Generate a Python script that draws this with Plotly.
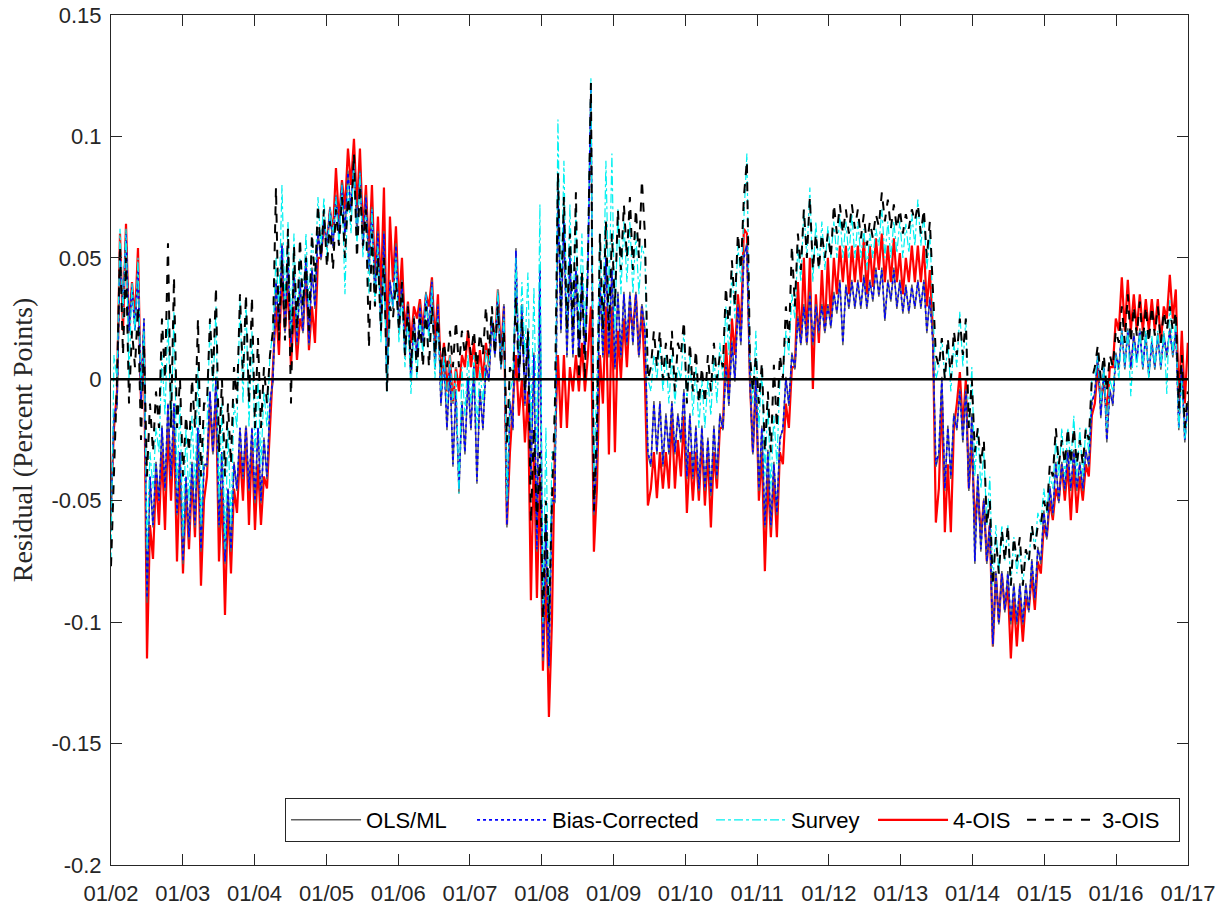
import pandas as pd
import plotly.graph_objects as go

# Two readings per month (Jan 2002 - Dec 2016), values in percent points
years = list(range(2002, 2017))
tick_years = list(range(2002, 2018))
tick_labels = ["01/%02d" % (y % 100) for y in tick_years]
y_ticks = [0.15, 0.1, 0.05, 0, -0.05, -0.1, -0.15, -0.2]
y_tick_labels = ["0.15", "0.1", "0.05", "0", "-0.05", "-0.1", "-0.15", "-0.2"]

ols_ml = [
    -0.057,-0.014, -0.012,0.050, 0.030,0.061, 0.019,0.038, 0.020,0.046, -0.011,0.025, -0.092,-0.040, -0.061,-0.034, -0.050,-0.019, -0.046,-0.010, -0.041,-0.010, -0.056,-0.030,
    -0.076,-0.040, -0.066,-0.034, -0.061,-0.020, -0.071,-0.035, -0.036,-0.005, -0.031,0.001, -0.061,-0.030, -0.076,-0.045, -0.071,-0.034, -0.046,-0.020, -0.041,-0.019, -0.046,-0.020,
    -0.051,-0.020, -0.051,-0.024, -0.041,-0.010, -0.001,0.041, 0.019,0.056, 0.019,0.051, 0.014,0.046, 0.014,0.041, 0.019,0.051, 0.014,0.046, 0.029,0.061, 0.049,0.066,
    0.054,0.071, 0.054,0.076, 0.059,0.081, 0.059,0.086, 0.069,0.091, 0.059,0.086, 0.054,0.076, 0.044,0.071, 0.034,0.061, 0.019,0.061, -0.004,0.041, 0.029,0.056,
    0.019,0.041, 0.009,0.031, -0.001,0.026, 0.009,0.031, 0.014,0.036, 0.019,0.041, 0.004,0.031, -0.011,0.011, -0.021,0.006, -0.036,-0.004, -0.047,-0.009, -0.031,0.001,
    -0.021,0.006, -0.043,-0.004, -0.021,0.006, -0.001,0.026, 0.009,0.036, 0.004,0.031, -0.061,-0.009, -0.021,0.054, -0.001,0.031, -0.011,0.021, -0.041,0.011, -0.071,0.046,
    -0.116,-0.059, -0.119,-0.049, -0.051,0.079, 0.019,0.066, 0.009,0.051, 0.009,0.046, 0.009,0.041, 0.009,0.046, 0.122,-0.056, -0.031,0.041, 0.009,0.051, 0.009,0.046,
    0.004,0.036, 0.009,0.036, 0.014,0.036, 0.014,0.036, 0.009,0.031, 0.021,-0.031, -0.036,-0.009, -0.031,-0.009, -0.036,-0.014, -0.031,-0.009, -0.031,-0.014, -0.026,-0.004,
    -0.041,-0.014, -0.041,-0.019, -0.046,-0.019, -0.046,-0.024, -0.048,-0.019, -0.041,-0.014, -0.021,0.006, -0.011,0.016, -0.001,0.031, 0.014,0.051, 0.056,-0.001, -0.031,0.001,
    -0.046,-0.019, -0.061,-0.029, -0.061,-0.034, -0.056,-0.024, -0.021,0.001, -0.011,0.011, 0.004,0.026, 0.014,0.031, 0.014,0.036, 0.014,0.031, 0.019,0.031, 0.019,0.031,
    0.021,0.036, 0.027,0.041, 0.014,0.039, 0.029,0.041, 0.029,0.041, 0.029,0.043, 0.029,0.041, 0.032,0.046, 0.034,0.046, 0.024,0.041, 0.032,0.046, 0.029,0.041,
    0.027,0.039, 0.027,0.039, 0.029,0.041, 0.029,0.041, 0.019,0.034, 0.016,-0.036, -0.031,0.001, -0.046,-0.019, -0.041,-0.014, -0.021,-0.004, -0.026,-0.004, -0.046,-0.014,
    -0.076,-0.039, -0.071,-0.049, -0.076,-0.059, -0.110,-0.079, -0.101,-0.079, -0.096,-0.079, -0.101,-0.084, -0.101,-0.084, -0.101,-0.084, -0.096,-0.074, -0.091,-0.069, -0.076,-0.054,
    -0.066,-0.044, -0.056,-0.034, -0.051,-0.034, -0.046,-0.029, -0.046,-0.029, -0.046,-0.034, -0.046,-0.029, -0.036,-0.009, -0.006,0.011, -0.016,0.006, -0.026,-0.004, -0.011,0.011,
    0.004,0.021, 0.004,0.021, 0.004,0.019, 0.007,0.021, 0.004,0.019, 0.001,0.016, 0.004,0.019, 0.004,0.019, 0.009,0.021, 0.009,0.021, -0.021,0.006, -0.026,-0.009,
]

bias_corrected = [
    -0.055,-0.015, -0.010,0.050, 0.030,0.060, 0.020,0.038, 0.020,0.045, -0.010,0.025, -0.090,-0.040, -0.060,-0.035, -0.050,-0.020, -0.045,-0.010, -0.040,-0.010, -0.055,-0.030,
    -0.075,-0.040, -0.065,-0.035, -0.060,-0.020, -0.070,-0.035, -0.035,-0.005, -0.030,0.000, -0.060,-0.030, -0.075,-0.045, -0.070,-0.035, -0.045,-0.020, -0.040,-0.020, -0.045,-0.020,
    -0.050,-0.020, -0.050,-0.025, -0.040,-0.010, 0.000,0.040, 0.020,0.055, 0.020,0.050, 0.015,0.045, 0.015,0.040, 0.020,0.050, 0.015,0.045, 0.030,0.060, 0.050,0.065,
    0.055,0.070, 0.055,0.075, 0.060,0.080, 0.060,0.085, 0.070,0.090, 0.060,0.085, 0.055,0.075, 0.045,0.070, 0.035,0.060, 0.020,0.060, -0.003,0.040, 0.030,0.055,
    0.020,0.040, 0.010,0.030, 0.000,0.025, 0.010,0.030, 0.015,0.035, 0.020,0.040, 0.005,0.030, -0.010,0.010, -0.020,0.005, -0.035,-0.005, -0.045,-0.010, -0.030,0.000,
    -0.020,0.005, -0.042,-0.005, -0.020,0.005, 0.000,0.025, 0.010,0.035, 0.005,0.030, -0.060,-0.010, -0.020,0.053, 0.000,0.030, -0.010,0.020, -0.040,0.010, -0.070,0.045,
    -0.115,-0.060, -0.118,-0.050, -0.050,0.078, 0.020,0.065, 0.010,0.050, 0.010,0.045, 0.010,0.040, 0.010,0.045, 0.120,-0.055, -0.030,0.040, 0.010,0.050, 0.010,0.045,
    0.005,0.035, 0.010,0.035, 0.015,0.035, 0.015,0.035, 0.010,0.030, 0.020,-0.030, -0.035,-0.010, -0.030,-0.010, -0.035,-0.015, -0.030,-0.010, -0.030,-0.015, -0.025,-0.005,
    -0.040,-0.015, -0.040,-0.020, -0.045,-0.020, -0.045,-0.025, -0.047,-0.020, -0.040,-0.015, -0.020,0.005, -0.010,0.015, 0.000,0.030, 0.015,0.050, 0.055,0.000, -0.030,0.000,
    -0.045,-0.020, -0.060,-0.030, -0.060,-0.035, -0.055,-0.025, -0.020,0.000, -0.010,0.010, 0.005,0.025, 0.015,0.030, 0.015,0.035, 0.015,0.030, 0.020,0.030, 0.020,0.030,
    0.022,0.035, 0.028,0.040, 0.015,0.038, 0.030,0.040, 0.030,0.040, 0.030,0.042, 0.030,0.040, 0.033,0.045, 0.035,0.045, 0.025,0.040, 0.033,0.045, 0.030,0.040,
    0.028,0.038, 0.028,0.038, 0.030,0.040, 0.030,0.040, 0.020,0.033, 0.015,-0.035, -0.030,0.000, -0.045,-0.020, -0.040,-0.015, -0.020,-0.005, -0.025,-0.005, -0.045,-0.015,
    -0.075,-0.040, -0.070,-0.050, -0.075,-0.060, -0.109,-0.080, -0.100,-0.080, -0.095,-0.080, -0.100,-0.085, -0.100,-0.085, -0.100,-0.085, -0.095,-0.075, -0.090,-0.070, -0.075,-0.055,
    -0.065,-0.045, -0.055,-0.035, -0.050,-0.035, -0.045,-0.030, -0.045,-0.030, -0.045,-0.035, -0.045,-0.030, -0.035,-0.010, -0.005,0.010, -0.015,0.005, -0.025,-0.005, -0.010,0.010,
    0.005,0.020, 0.005,0.020, 0.005,0.018, 0.008,0.020, 0.005,0.018, 0.002,0.015, 0.005,0.018, 0.005,0.018, 0.010,0.020, 0.010,0.020, -0.020,0.005, -0.025,-0.010,
]

survey = [
    -0.075,0.010, 0.000,0.062, 0.025,0.062, 0.000,0.040, 0.020,0.050, -0.005,0.020, -0.070,-0.030, -0.045,-0.020, -0.030,0.010, -0.015,0.025, -0.020,0.028, -0.045,-0.010,
    -0.065,-0.020, -0.050,-0.015, -0.045,0.005, -0.060,-0.020, -0.020,0.024, -0.005,0.030, -0.050,-0.010, -0.070,-0.020, -0.060,-0.010, -0.020,0.033, -0.010,0.033, -0.020,0.020,
    -0.030,0.000, -0.035,-0.005, -0.020,0.010, 0.020,0.050, 0.030,0.080, 0.030,0.065, 0.020,0.060, 0.020,0.050, 0.030,0.060, 0.030,0.060, 0.040,0.075, 0.055,0.075,
    0.050,0.070, 0.060,0.075, 0.055,0.080, 0.035,0.080, 0.060,0.090, 0.055,0.085, 0.050,0.070, 0.035,0.070, 0.030,0.055, 0.015,0.050, -0.005,0.035, 0.030,0.050,
    0.015,0.035, 0.005,0.025, -0.006,0.020, 0.000,0.025, 0.010,0.035, 0.015,0.038, 0.000,0.025, -0.005,0.010, -0.010,0.010, -0.010,0.005, -0.047,0.005, -0.015,0.010,
    -0.010,0.010, -0.020,0.005, -0.010,0.012, 0.005,0.025, 0.015,0.037, 0.005,0.025, -0.050,-0.005, 0.000,0.050, 0.010,0.040, 0.010,0.044, -0.020,0.038, -0.030,0.072,
    -0.100,-0.020, -0.100,-0.030, -0.030,0.107, 0.030,0.090, 0.020,0.072, 0.025,0.070, 0.020,0.060, 0.020,0.055, 0.124,-0.040, 0.000,0.060, 0.020,0.090, 0.030,0.093,
    0.020,0.070, 0.035,0.065, 0.040,0.065, 0.035,0.060, 0.035,0.055, 0.050,0.000, -0.005,0.010, 0.000,0.015, -0.005,0.010, -0.010,0.010, -0.010,0.005, 0.000,0.020,
    -0.010,0.010, -0.015,0.005, -0.020,0.000, -0.020,0.000, -0.015,0.010, -0.010,0.015, 0.000,0.030, 0.010,0.045, 0.025,0.055, 0.040,0.070, 0.093,0.010, -0.010,0.020,
    -0.020,0.005, -0.040,-0.010, -0.045,-0.015, -0.035,0.000, 0.000,0.020, 0.010,0.035, 0.025,0.055, 0.040,0.070, 0.050,0.079, 0.040,0.065, 0.045,0.065, 0.045,0.063,
    0.050,0.065, 0.050,0.068, 0.050,0.065, 0.050,0.068, 0.050,0.065, 0.050,0.062, 0.045,0.060, 0.050,0.062, 0.055,0.070, 0.050,0.065, 0.050,0.065, 0.052,0.065,
    0.050,0.064, 0.052,0.068, 0.055,0.074, 0.055,0.068, 0.045,0.060, 0.030,0.000, 0.005,0.017, 0.000,0.015, -0.005,0.015, 0.005,0.028, 0.005,0.025, -0.020,0.005,
    -0.040,-0.020, -0.045,-0.030, -0.060,-0.040, -0.085,-0.060, -0.080,-0.060, -0.075,-0.060, -0.085,-0.065, -0.080,-0.070, -0.085,-0.070, -0.075,-0.060, -0.070,-0.055, -0.060,-0.045,
    -0.055,-0.040, -0.045,-0.025, -0.040,-0.020, -0.040,-0.020, -0.035,-0.015, -0.040,-0.020, -0.040,-0.020, -0.030,0.000, 0.000,0.010, -0.010,0.005, -0.020,0.000, -0.005,0.010,
    0.000,0.020, 0.005,0.020, -0.007,0.015, 0.005,0.020, 0.005,0.020, 0.000,0.018, 0.005,0.020, 0.005,0.020, -0.006,0.033, 0.010,0.025, -0.020,0.000, -0.025,-0.015,
]

ois4 = [
    -0.050,-0.020, -0.005,0.060, 0.020,0.064, 0.020,0.040, 0.025,0.054, -0.010,0.020, -0.115,-0.060, -0.074,-0.040, -0.060,-0.030, -0.062,-0.020, -0.050,-0.020, -0.075,-0.035,
    -0.080,-0.045, -0.070,-0.040, -0.065,-0.025, -0.085,-0.050, -0.040,-0.010, -0.030,-0.005, -0.075,-0.045, -0.097,-0.050, -0.080,-0.045, -0.055,-0.030, -0.050,-0.020, -0.060,-0.025,
    -0.062,-0.035, -0.060,-0.040, -0.045,-0.020, 0.000,0.030, 0.010,0.045, 0.020,0.040, 0.005,0.030, 0.008,0.025, 0.020,0.045, 0.012,0.030, 0.015,0.050, 0.050,0.065,
    0.055,0.070, 0.060,0.087, 0.065,0.082, 0.070,0.095, 0.080,0.099, 0.070,0.095, 0.060,0.080, 0.050,0.080, 0.040,0.067, 0.035,0.079, 0.010,0.067, 0.040,0.063,
    0.030,0.050, 0.020,0.032, 0.015,0.030, 0.025,0.033, 0.020,0.035, 0.030,0.042, 0.015,0.035, 0.000,0.015, -0.005,0.010, -0.010,0.005, -0.005,0.010, 0.005,0.020,
    0.005,0.015, 0.000,0.012, 0.000,0.015, 0.005,0.025, 0.015,0.037, 0.010,0.030, -0.060,-0.030, -0.010,0.010, -0.015,0.000, -0.026,-0.005, -0.091,-0.030, -0.090,-0.040,
    -0.120,-0.080, -0.139,-0.100, -0.026,0.010, -0.020,0.010, -0.020,0.005, -0.005,0.010, -0.005,0.015, -0.005,0.010, 0.030,-0.071, -0.045,0.010, -0.010,0.030, -0.031,0.030,
    -0.030,0.020, 0.000,0.025, 0.005,0.030, 0.020,0.035, 0.010,0.030, 0.000,-0.052, -0.045,-0.030, -0.049,-0.030, -0.045,-0.030, -0.045,-0.015, -0.045,-0.025, -0.040,-0.015,
    -0.055,-0.030, -0.050,-0.030, -0.050,-0.025, -0.052,-0.030, -0.061,-0.030, -0.045,-0.020, -0.020,0.015, -0.005,0.025, 0.010,0.035, 0.020,0.062, 0.060,0.000, -0.030,0.000,
    -0.050,-0.030, -0.079,-0.040, -0.065,-0.040, -0.065,-0.030, -0.035,-0.010, -0.020,0.005, 0.005,0.040, 0.015,0.050, 0.015,0.050, -0.004,0.035, 0.015,0.045, 0.020,0.050,
    0.025,0.050, 0.035,0.055, 0.040,0.055, 0.035,0.055, 0.040,0.055, 0.040,0.058, 0.035,0.055, 0.038,0.058, 0.045,0.060, 0.040,0.055, 0.040,0.058, 0.040,0.052,
    0.035,0.050, 0.040,0.055, 0.040,0.055, 0.040,0.055, 0.030,0.045, 0.020,-0.059, -0.045,-0.005, -0.063,-0.035, -0.063,-0.020, -0.010,0.003, -0.020,0.000, -0.045,-0.025,
    -0.060,-0.045, -0.065,-0.050, -0.075,-0.060, -0.110,-0.080, -0.100,-0.080, -0.095,-0.085, -0.115,-0.090, -0.110,-0.090, -0.108,-0.090, -0.095,-0.080, -0.095,-0.075, -0.080,-0.060,
    -0.065,-0.050, -0.058,-0.045, -0.050,-0.035, -0.050,-0.035, -0.058,-0.035, -0.055,-0.040, -0.050,-0.035, -0.040,-0.015, -0.010,0.005, -0.010,0.000, -0.015,0.005, 0.005,0.025,
    0.020,0.042, 0.020,0.041, 0.020,0.035, 0.020,0.035, 0.020,0.033, 0.020,0.033, 0.020,0.033, 0.015,0.030, 0.025,0.043, 0.025,0.037, -0.010,0.020, -0.010,0.015,
]

ois3 = [
    -0.077,-0.040, 0.000,0.055, 0.010,0.050, -0.010,0.020, 0.005,0.030, -0.025,0.015, -0.040,-0.010, -0.030,-0.005, -0.020,0.025, 0.000,0.056, -0.020,0.042, -0.020,0.000,
    -0.040,-0.015, -0.030,0.000, -0.020,0.025, -0.040,-0.010, -0.010,0.025, 0.000,0.038, -0.030,0.000, -0.040,-0.010, -0.035,0.005, -0.010,0.035, 0.000,0.035, -0.010,0.034,
    -0.020,0.017, -0.020,0.005, -0.010,0.010, 0.020,0.079, 0.016,0.050, 0.016,0.062, -0.010,0.055, 0.020,0.058, 0.030,0.050, 0.020,0.060, 0.040,0.072, 0.050,0.070,
    0.046,0.065, 0.045,0.070, 0.055,0.075, 0.050,0.075, 0.065,0.093, 0.050,0.080, 0.055,0.070, 0.013,0.060, 0.030,0.050, 0.020,0.050, -0.005,0.030, 0.025,0.040,
    0.020,0.040, 0.010,0.030, 0.005,0.025, 0.003,0.025, 0.005,0.030, 0.005,0.030, 0.010,0.025, 0.005,0.015, 0.005,0.020, 0.005,0.024, 0.005,0.020, 0.010,0.020,
    0.010,0.020, 0.005,0.019, 0.010,0.030, 0.010,0.030, 0.010,0.030, 0.005,0.020, -0.026,0.005, 0.000,0.034, 0.000,0.025, -0.005,0.020, -0.059,-0.020, -0.060,-0.030,
    -0.099,-0.050, -0.100,-0.050, -0.010,0.085, 0.030,0.075, 0.020,0.060, 0.020,0.077, 0.000,0.045, 0.000,0.050, 0.122,-0.054, -0.020,0.060, 0.020,0.065, 0.020,0.060,
    0.030,0.070, 0.045,0.072, 0.050,0.075, 0.045,0.070, 0.050,0.082, 0.060,0.000, 0.005,0.020, 0.005,0.020, 0.000,0.015, 0.000,0.020, -0.005,0.015, 0.010,0.024,
    -0.010,0.015, -0.005,0.012, -0.010,0.005, -0.010,0.010, -0.005,0.015, 0.000,0.010, 0.005,0.038, 0.020,0.049, 0.030,0.060, 0.045,0.075, 0.090,0.010, -0.005,0.010,
    -0.010,0.007, -0.030,-0.005, -0.030,0.006, -0.020,0.010, 0.000,0.030, 0.015,0.055, 0.030,0.060, 0.045,0.070, 0.050,0.075, 0.045,0.060, 0.045,0.060, 0.050,0.060,
    0.050,0.072, 0.060,0.072, 0.060,0.070, 0.060,0.072, 0.062,0.070, 0.058,0.068, 0.055,0.065, 0.058,0.068, 0.063,0.077, 0.065,0.074, 0.062,0.072, 0.062,0.070,
    0.060,0.068, 0.062,0.070, 0.065,0.072, 0.060,0.070, 0.050,0.065, 0.035,0.010, 0.005,0.017, 0.000,0.017, 0.000,0.020, 0.010,0.025, 0.010,0.025, -0.020,0.000,
    -0.030,-0.020, -0.035,-0.025, -0.060,-0.050, -0.085,-0.065, -0.080,-0.062, -0.075,-0.060, -0.085,-0.065, -0.075,-0.065, -0.085,-0.070, -0.075,-0.060, -0.070,-0.060, -0.060,-0.050,
    -0.055,-0.035, -0.040,-0.020, -0.035,-0.025, -0.035,-0.020, -0.035,-0.020, -0.035,-0.025, -0.035,-0.020, -0.025,0.000, 0.005,0.014, 0.000,0.010, -0.005,0.010, 0.005,0.020,
    0.015,0.030, 0.015,0.035, 0.015,0.030, 0.018,0.032, 0.015,0.030, 0.015,0.030, 0.018,0.030, 0.015,0.028, 0.020,0.030, 0.020,0.028, -0.012,0.010, -0.020,-0.005,
]

dates = pd.date_range("2002-01-01", "2016-12-31", periods=len(bias_corrected))
tick_vals = [pd.Timestamp(f"{y}-01-01") for y in tick_years]

fig = go.Figure()
# (name, values, line style, legend rank, legend entry width)
series = [
    ("4-OIS", ois4, dict(color="rgb(255,0,0)", width=2.2, dash="solid"), 4, 64),
    ("OLS/ML", ols_ml, dict(color="rgb(95,95,95)", width=1.5, dash="solid"), 1, 101),
    ("Bias-Corrected", bias_corrected, dict(color="rgb(0,0,255)", width=1.6, dash="dot"), 2, 154),
    ("Survey", survey, dict(color="rgb(0,240,240)", width=1.2, dash="dashdot"), 3, 77),
    ("3-OIS", ois3, dict(color="rgb(0,0,0)", width=2, dash="dash"), 5, 72),
]
for name, vals, line, rank, lw in series:
    fig.add_trace(go.Scatter(x=dates, y=vals, mode="lines", name=name, line=line,
                             legendrank=rank, legendwidth=lw))

fig.add_shape(type="line", xref="paper", x0=0, x1=1, yref="y", y0=0, y1=0,
              line=dict(color="black", width=2.5), layer="above")

axis_common = dict(showline=True, linecolor="#262626", linewidth=1, mirror="ticks",
                   ticks="inside", ticklen=11, tickcolor="#262626", showgrid=False,
                   zeroline=False, tickfont=dict(family="Liberation Sans", size=22, color="#262626"))

fig.update_layout(
    width=1228, height=907,
    margin=dict(l=111, r=40, t=15, b=42, autoexpand=False),
    paper_bgcolor="white", plot_bgcolor="white",
    xaxis=dict(range=[pd.Timestamp("2002-01-01"), pd.Timestamp("2017-01-01")],
               tickvals=tick_vals, ticktext=tick_labels, ticklabelstandoff=9, **axis_common),
    yaxis=dict(range=[-0.2, 0.15], tickvals=y_ticks, ticktext=y_tick_labels,
               ticklabelstandoff=4,
               title=dict(text="Residual (Percent Points)", standoff=10,
                          font=dict(family="Liberation Serif", size=28, color="#262626")),
               **axis_common),
    legend=dict(orientation="h", x=0.9926, xanchor="right", y=0.027, yanchor="bottom",
                bgcolor="white", bordercolor="#262626", borderwidth=1,
                font=dict(family="Liberation Sans", size=22, color="black"),
                itemwidth=70, traceorder="normal"),
    showlegend=True,
)

fig.write_html("out.html")
